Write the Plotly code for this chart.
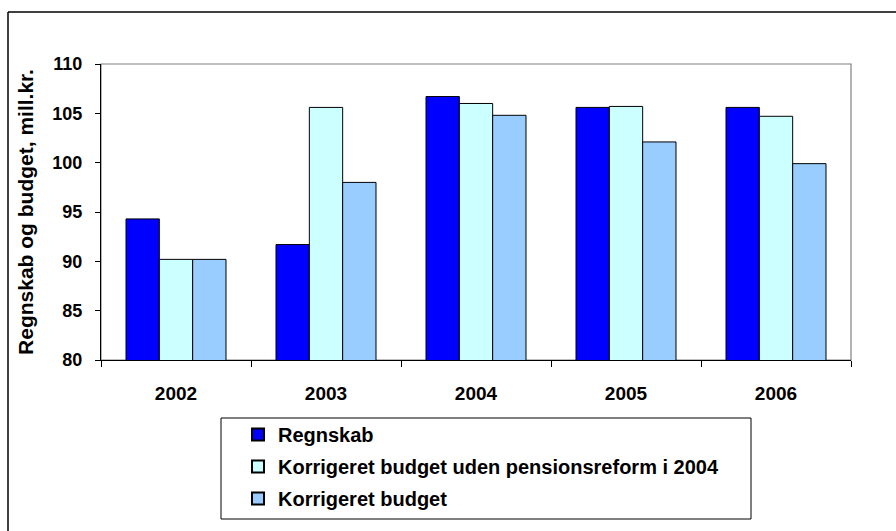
import plotly.graph_objects as go

years = ["2002", "2003", "2004", "2005", "2006"]
series_names = [
    "Regnskab",
    "Korrigeret budget uden pensionsreform i 2004",
    "Korrigeret budget",
]
regnskab = [94.3, 91.7, 106.7, 105.6, 105.6]
korr_uden = [90.2, 105.6, 106.0, 105.7, 104.7]
korr_budget = [90.2, 98.0, 104.8, 102.1, 99.9]
y_ticks = [80, 85, 90, 95, 100, 105, 110]
y_title = "Regnskab og budget, mill.kr."

colors = ["#0000FF", "#CCFFFF", "#99CCFF"]
values = [regnskab, korr_uden, korr_budget]

W, H = 896, 531
L, R, T, B = 101, 45, 64, 171
pw, ph = W - L - R, H - T - B

def px(x):
    return (x - L) / pw

def py(y):
    return (H - B - y) / ph

FONT = "Liberation Sans, Arial, sans-serif"

fig = go.Figure()
for i, (name, vals) in enumerate(zip(series_names, values)):
    fig.add_trace(go.Bar(
        x=years, y=vals, name=name,
        marker=dict(color=colors[i], line=dict(color="#000000", width=1)),
        legendgroup=f"g{i}",
    ))

shapes = [
    # grey plot-area frame
    dict(type="rect", xref="paper", yref="paper", x0=0, x1=1, y0=0, y1=1,
         line=dict(color="#808080", width=1.2), layer="below"),
    # outer chart frame (cut off at right and bottom)
    dict(type="line", xref="paper", yref="paper", x0=px(8), x1=px(W + 20), y0=py(12), y1=py(12),
         line=dict(color="#000000", width=1.5)),
    dict(type="line", xref="paper", yref="paper", x0=px(8), x1=px(8), y0=py(12), y1=py(H + 20),
         line=dict(color="#000000", width=1.5)),
    # legend box
    dict(type="rect", xref="paper", yref="paper", x0=px(221), x1=px(751), y0=py(418), y1=py(519),
         line=dict(color="#000000", width=1), fillcolor="rgba(0,0,0,0)"),
]

fig.update_layout(
    width=W, height=H,
    margin=dict(l=L, r=R, t=T, b=B, pad=0),
    paper_bgcolor="white", plot_bgcolor="white",
    font=dict(family=FONT, color="#000000", size=20),
    barmode="group", bargap=1/3, bargroupgap=0,
    showlegend=True,
    legend=dict(
        x=px(238), y=py(415), xanchor="left", yanchor="top",
        bgcolor="rgba(0,0,0,0)", borderwidth=0,
        font=dict(family=FONT, size=20, color="#000000", weight="bold"),
        tracegroupgap=3, itemsizing="constant",
    ),
    shapes=shapes,
)

fig.update_xaxes(
    type="category", showgrid=False, showline=True, linecolor="#000000", linewidth=1,
    ticks="outside", ticklen=6, tickcolor="#000000", tickson="boundaries",
    tickfont=dict(family=FONT, size=19, weight="bold"),
    ticklabelstandoff=16,
)
fig.update_yaxes(
    range=[80, 110], tickvals=y_ticks, showgrid=False, showline=True,
    linecolor="#000000", linewidth=1, ticks="outside", ticklen=5, tickcolor="#000000",
    tickfont=dict(family=FONT, size=18, weight="bold"),
    ticklabelstandoff=9,
    title=dict(text=y_title, font=dict(family=FONT, size=21, weight="bold"), standoff=13),
    zeroline=False,
)

post = (
    "document.documentElement.style.margin='0';"
    "document.body.style.margin='0';"
    "var gd=document.getElementById('{plot_id}');"
    "gd.parentElement.style.height='531px';"
    "gd.parentElement.style.width='896px';"
    "gd.parentElement.style.overflow='hidden';"
)

fig.write_html("out.html", config={"displayModeBar": False}, post_script=post)
